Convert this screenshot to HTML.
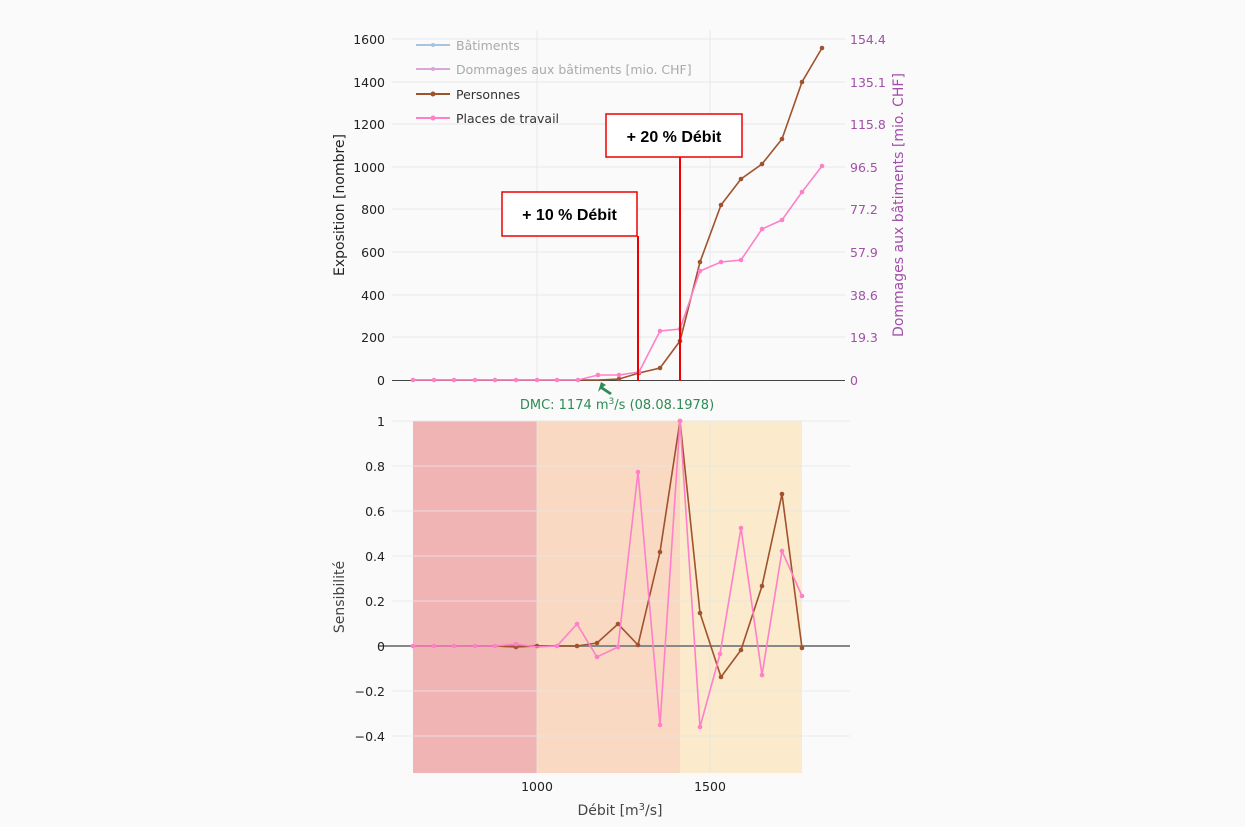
<!DOCTYPE html>
<html><head><meta charset="utf-8"><style>
body{margin:0;background:#fafafa;}
svg{display:block;font-family:"DejaVu Sans","Liberation Sans",sans-serif;}
</style></head><body>
<svg width="1245" height="827" viewBox="0 0 1245 827" xmlns="http://www.w3.org/2000/svg">
<rect width="1245" height="827" fill="#fafafa"/>
<g stroke="#e8e8e8" stroke-width="1">
<line x1="392" y1="39" x2="845" y2="39"/><line x1="392" y1="82" x2="845" y2="82"/>
<line x1="392" y1="124" x2="845" y2="124"/><line x1="392" y1="167" x2="845" y2="167"/>
<line x1="392" y1="209" x2="845" y2="209"/><line x1="392" y1="252" x2="845" y2="252"/>
<line x1="392" y1="295" x2="845" y2="295"/><line x1="392" y1="337" x2="845" y2="337"/>
<line x1="537" y1="30" x2="537" y2="380"/><line x1="710" y1="30" x2="710" y2="380"/>
</g>
<line x1="392" y1="380.5" x2="845" y2="380.5" stroke="#444" stroke-width="1"/>
<g font-size="12.5" fill="#222" text-anchor="end">
<text x="385" y="44">1600</text><text x="385" y="87">1400</text><text x="385" y="129">1200</text>
<text x="385" y="172">1000</text><text x="385" y="214">800</text><text x="385" y="257">600</text>
<text x="385" y="300">400</text><text x="385" y="342">200</text><text x="385" y="385">0</text>
</g>
<g font-size="12.5" fill="#a050a8">
<text x="850" y="44">154.4</text><text x="850" y="87">135.1</text><text x="850" y="129">115.8</text>
<text x="850" y="172">96.5</text><text x="850" y="214">77.2</text><text x="850" y="257">57.9</text>
<text x="850" y="300">38.6</text><text x="850" y="342">19.3</text><text x="850" y="385">0</text>
</g>
<text transform="translate(344,205) rotate(-90)" font-size="14" fill="#222" text-anchor="middle">Exposition [nombre]</text>
<text transform="translate(903,205) rotate(-90)" font-size="14" fill="#a050a8" text-anchor="middle">Dommages aux bâtiments [mio. CHF]</text>
<g font-size="12.5">
<line x1="416" y1="45" x2="450" y2="45" stroke="#a6c4df" stroke-width="2"/><circle cx="433" cy="45" r="2" fill="#a6c4df"/>
<text x="456" y="50" fill="#aaa">Bâtiments</text>
<line x1="416" y1="69" x2="450" y2="69" stroke="#d8a6d8" stroke-width="2"/><circle cx="433" cy="69" r="2" fill="#d8a6d8"/>
<text x="456" y="74" fill="#aaa">Dommages aux bâtiments [mio. CHF]</text>
<line x1="416" y1="94" x2="450" y2="94" stroke="#a0522d" stroke-width="2"/><circle cx="433" cy="94" r="2.5" fill="#a0522d"/>
<text x="456" y="99" fill="#333">Personnes</text>
<line x1="416" y1="118" x2="450" y2="118" stroke="#ff80c8" stroke-width="2"/><circle cx="433" cy="118" r="2.5" fill="#ff80c8"/>
<text x="456" y="123" fill="#333">Places de travail</text>
</g>
<polyline fill="none" stroke="#a0522d" stroke-width="1.6" points="413,380 434,380 454,380 475,380 495,380 516,380 537,380 557,380 578,380 598,380 619,379 639,373 660,368 680,341 700,262 721,205 741,179 762,164 782,139 802,82 822,48"/>
<g fill="#a0522d"><circle cx="619" cy="379" r="2.3"/><circle cx="639" cy="373" r="2.3"/><circle cx="660" cy="368" r="2.3"/><circle cx="680" cy="341" r="2.3"/><circle cx="700" cy="262" r="2.3"/><circle cx="721" cy="205" r="2.3"/><circle cx="741" cy="179" r="2.3"/><circle cx="762" cy="164" r="2.3"/><circle cx="782" cy="139" r="2.3"/><circle cx="802" cy="82" r="2.3"/><circle cx="822" cy="48" r="2.3"/></g>
<polyline fill="none" stroke="#ff80c8" stroke-width="1.6" points="413,380 434,380 454,380 475,380 495,380 516,380 537,380 557,380 578,380 598,375 619,375 639,372 660,331 680,329 700,271 721,262 741,260 762,229 782,220 802,192 822,166"/>
<g fill="#ff80c8"><circle cx="413" cy="380" r="2.3"/><circle cx="434" cy="380" r="2.3"/><circle cx="454" cy="380" r="2.3"/><circle cx="475" cy="380" r="2.3"/><circle cx="495" cy="380" r="2.3"/><circle cx="516" cy="380" r="2.3"/><circle cx="537" cy="380" r="2.3"/><circle cx="557" cy="380" r="2.3"/><circle cx="578" cy="380" r="2.3"/><circle cx="598" cy="375" r="2.3"/><circle cx="619" cy="375" r="2.3"/><circle cx="639" cy="372" r="2.3"/><circle cx="660" cy="331" r="2.3"/><circle cx="680" cy="329" r="2.3"/><circle cx="700" cy="271" r="2.3"/><circle cx="721" cy="262" r="2.3"/><circle cx="741" cy="260" r="2.3"/><circle cx="762" cy="229" r="2.3"/><circle cx="782" cy="220" r="2.3"/><circle cx="802" cy="192" r="2.3"/><circle cx="822" cy="166" r="2.3"/></g>
<line x1="638" y1="236" x2="638" y2="381" stroke="#e00" stroke-width="2"/>
<line x1="680" y1="157" x2="680" y2="381" stroke="#e00" stroke-width="2"/>
<rect x="502" y="192" width="135" height="44" fill="#fff" stroke="#e00" stroke-width="1.5"/>
<text x="569.5" y="220" font-size="16" font-weight="bold" text-anchor="middle" fill="#000" font-family="Liberation Sans, sans-serif">+ 10 % Débit</text>
<rect x="606" y="114" width="136" height="43" fill="#fff" stroke="#e00" stroke-width="1.5"/>
<text x="674" y="142" font-size="16" font-weight="bold" text-anchor="middle" fill="#000" font-family="Liberation Sans, sans-serif">+ 20 % Débit</text>
<path d="M601,382 L598,392 L601,389 L610,395 L612,393 L603,387 L606,385 Z" fill="#2e8b57"/>
<text x="617" y="409" font-size="13" fill="#2e8b57" text-anchor="middle">DMC: 1174 m<tspan dy="-5" font-size="9">3</tspan><tspan dy="5">/s (08.08.1978)</tspan></text>
<rect x="413" y="421" width="124" height="352" fill="#f0b4b4"/>
<rect x="537" y="421" width="143" height="352" fill="#f9d9c1"/>
<rect x="680" y="421" width="122" height="352" fill="#fbeacb"/>
<g stroke="#e6e6e6" stroke-width="1" opacity="0.8">
<line x1="392" y1="421" x2="850" y2="421"/><line x1="392" y1="466" x2="850" y2="466"/>
<line x1="392" y1="511" x2="850" y2="511"/><line x1="392" y1="556" x2="850" y2="556"/>
<line x1="392" y1="601" x2="850" y2="601"/><line x1="392" y1="691" x2="850" y2="691"/>
<line x1="392" y1="736" x2="850" y2="736"/>
<line x1="537" y1="421" x2="537" y2="773"/><line x1="710" y1="421" x2="710" y2="773"/>
</g>
<line x1="378" y1="646" x2="850" y2="646" stroke="#888" stroke-width="2"/>
<g font-size="12.5" fill="#222" text-anchor="end">
<text x="385" y="426">1</text><text x="385" y="471">0.8</text><text x="385" y="516">0.6</text>
<text x="385" y="561">0.4</text><text x="385" y="606">0.2</text><text x="385" y="651">0</text>
<text x="385" y="696">−0.2</text><text x="385" y="741">−0.4</text>
</g>
<text transform="translate(344,597) rotate(-90)" font-size="14" fill="#444" text-anchor="middle">Sensibilité</text>
<g font-size="12.5" fill="#222" text-anchor="middle"><text x="537" y="791">1000</text><text x="710" y="791">1500</text></g>
<text x="620" y="815" font-size="14" fill="#444" text-anchor="middle">Débit [m<tspan dy="-5" font-size="10">3</tspan><tspan dy="5">/s]</tspan></text>
<polyline fill="none" stroke="#a0522d" stroke-width="1.6" points="413,646 434,646 454,646 475,646 495,646 516,647 537,646 557,646 577,646 597,643 618,624 638,645 660,552 680,421 700,613 721,677 741,650 762,586 782,494 802,648"/>
<g fill="#a0522d"><circle cx="516" cy="647" r="2.3"/><circle cx="537" cy="646" r="2.3"/><circle cx="577" cy="646" r="2.3"/><circle cx="597" cy="643" r="2.3"/><circle cx="618" cy="624" r="2.3"/><circle cx="638" cy="645" r="2.3"/><circle cx="660" cy="552" r="2.3"/><circle cx="680" cy="421" r="2.3"/><circle cx="700" cy="613" r="2.3"/><circle cx="721" cy="677" r="2.3"/><circle cx="741" cy="650" r="2.3"/><circle cx="762" cy="586" r="2.3"/><circle cx="782" cy="494" r="2.3"/><circle cx="802" cy="648" r="2.3"/></g>
<polyline fill="none" stroke="#ff80c8" stroke-width="1.6" points="413,646 434,646 454,646 475,646 495,646 516,644 537,647 557,646 577,624 597,657 618,647 638,472 660,725 680,421 700,727 720,654 741,528 762,675 782,551 802,596"/>
<g fill="#ff80c8"><circle cx="413" cy="646" r="2.3"/><circle cx="434" cy="646" r="2.3"/><circle cx="454" cy="646" r="2.3"/><circle cx="475" cy="646" r="2.3"/><circle cx="495" cy="646" r="2.3"/><circle cx="516" cy="644" r="2.3"/><circle cx="557" cy="646" r="2.3"/><circle cx="577" cy="624" r="2.3"/><circle cx="597" cy="657" r="2.3"/><circle cx="618" cy="647" r="2.3"/><circle cx="638" cy="472" r="2.3"/><circle cx="660" cy="725" r="2.3"/><circle cx="680" cy="421" r="2.3"/><circle cx="700" cy="727" r="2.3"/><circle cx="720" cy="654" r="2.3"/><circle cx="741" cy="528" r="2.3"/><circle cx="762" cy="675" r="2.3"/><circle cx="782" cy="551" r="2.3"/><circle cx="802" cy="596" r="2.3"/></g>
</svg>
</body></html>
